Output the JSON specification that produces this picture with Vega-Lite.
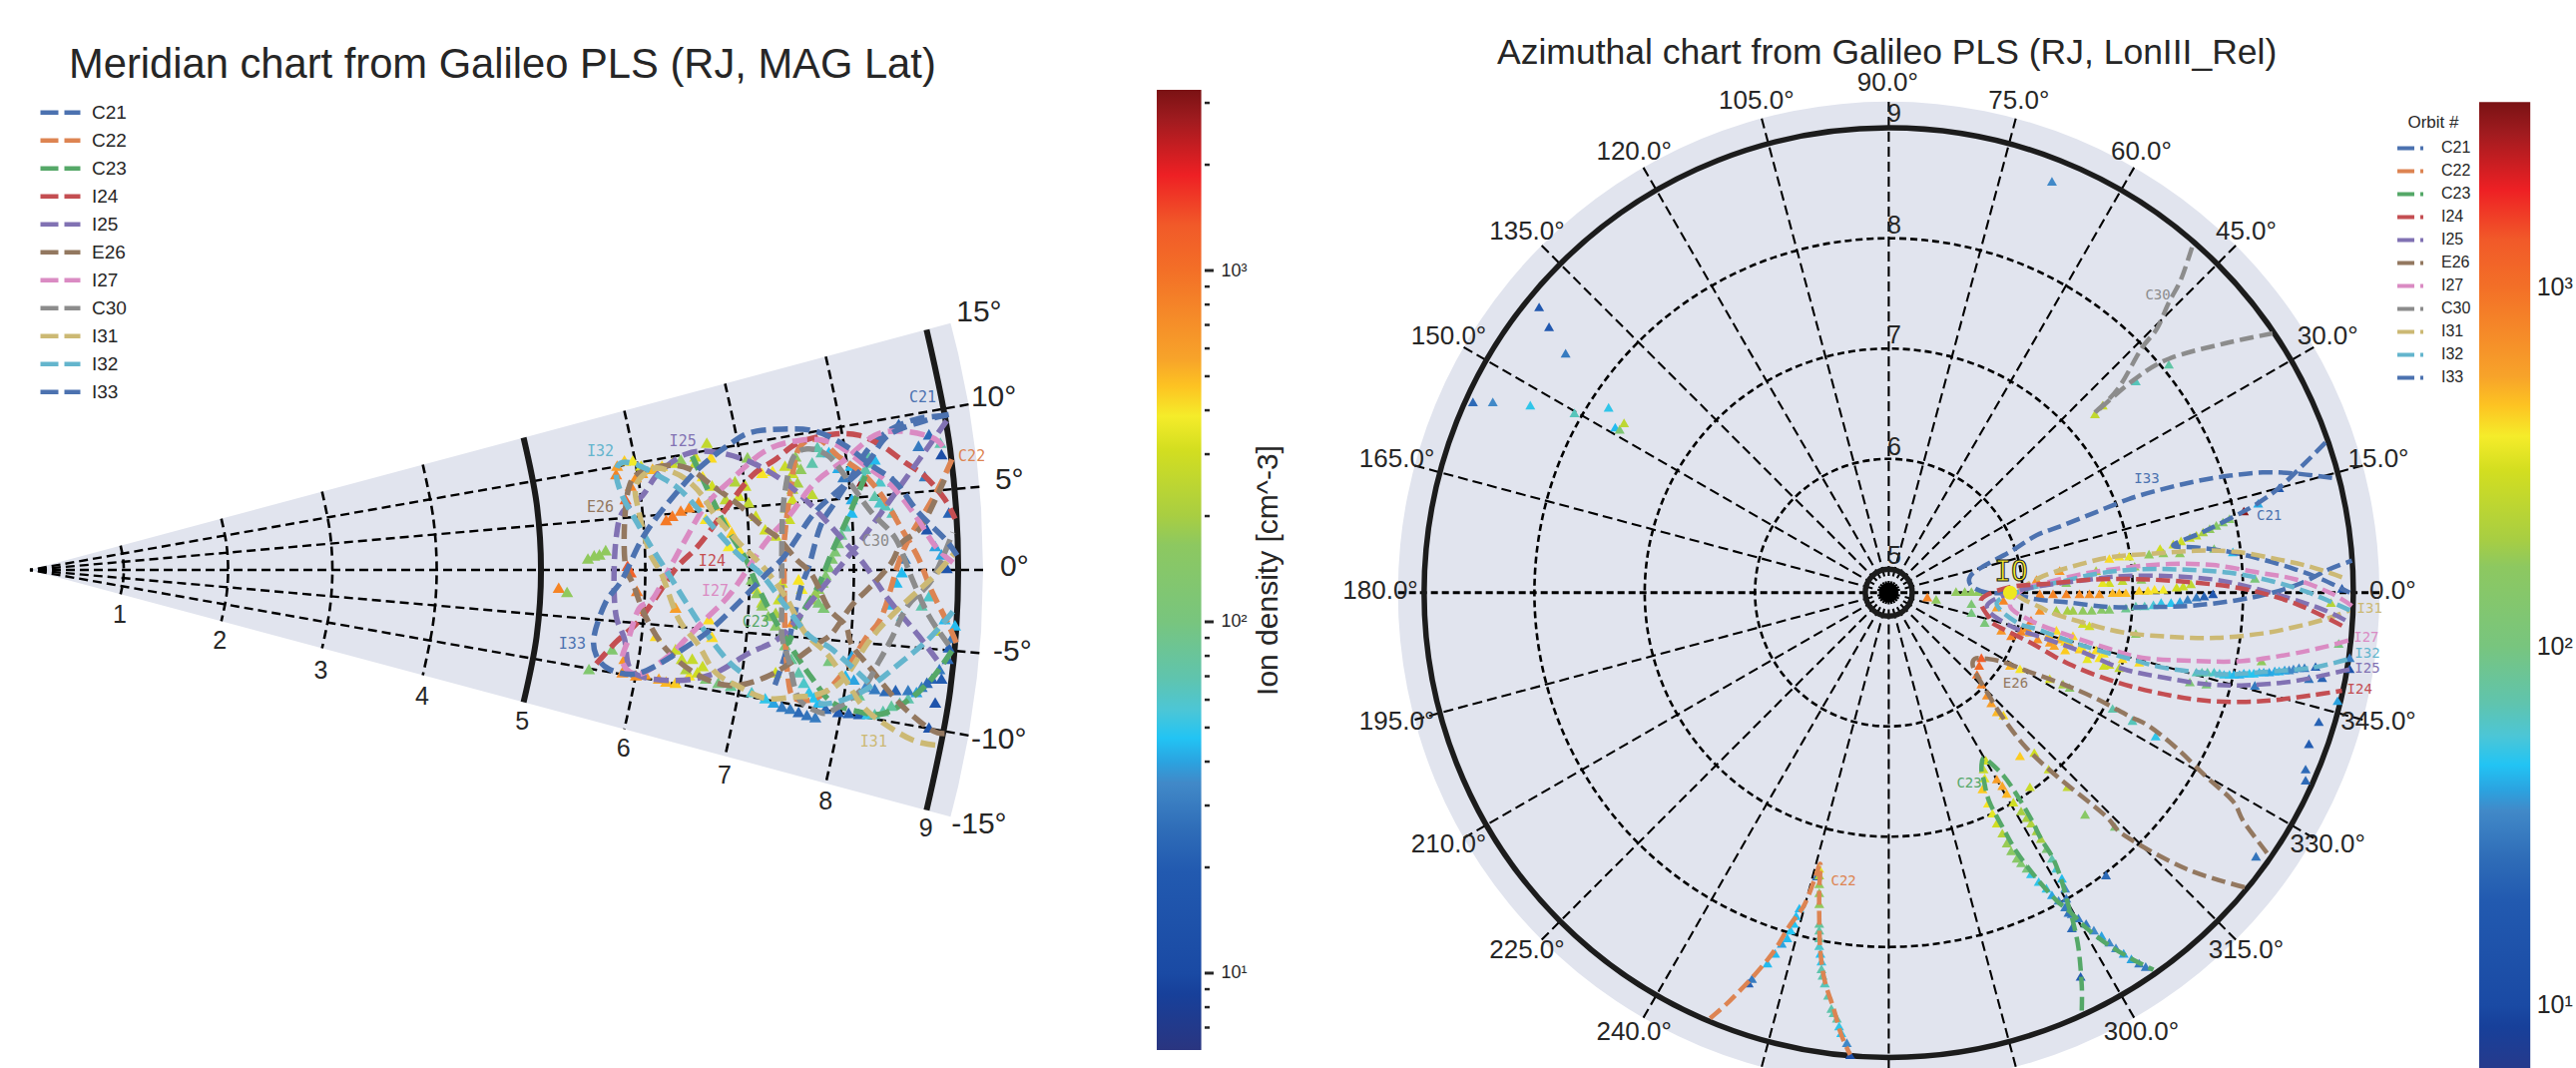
{"$schema":"https://vega.github.io/schema/vega-lite/v6.json","padding":0,"background":"white","bounds":"flush","spacing":0,"config":{"view":{"stroke":null},"font":"Liberation Sans"},
"resolve":{"scale":{"stroke":"independent","color":"independent"},"legend":{"stroke":"independent"}},
"datasets":{
"orbA":[
{"o":"C21","x":8.79,"y":1.48},{"o":"C21","x":8.52,"y":1.45},{"o":"C21","x":8.26,"y":1.35},{"o":"C21","x":8.04,"y":1.16},{"o":"C21","x":7.88,"y":0.9},{"o":"C21","x":7.72,"y":0.65},{"o":"C21","x":7.58,"y":0.42},{"o":"C21","x":7.47,"y":0.04},{"o":"C21","x":7.39,"y":-0.18},{"o":"C21","x":7.31,"y":-0.53},{"o":"C21","x":7.24,"y":-0.82},{"o":"C21","x":7.13,"y":-1.14},
{"o":"C22","x":8.84,"y":1.06},{"o":"C22","x":8.74,"y":0.84},{"o":"C22","x":8.62,"y":0.62},{"o":"C22","x":8.46,"y":0.36},{"o":"C22","x":8.33,"y":0.07},{"o":"C22","x":8.17,"y":-0.44},{"o":"C22","x":8.01,"y":-0.66},{"o":"C22","x":7.85,"y":-0.92},{"o":"C22","x":7.63,"y":-1.17},{"o":"C22","x":7.47,"y":-1.25},{"o":"C22","x":7.32,"y":-1.22},{"o":"C22","x":7.27,"y":-1.04},{"o":"C22","x":7.24,"y":-0.6},{"o":"C22","x":7.23,"y":0.11},{"o":"C22","x":7.24,"y":0.36},{"o":"C22","x":7.29,"y":0.74},{"o":"C22","x":7.37,"y":1.16},{"o":"C22","x":7.56,"y":1.25},{"o":"C22","x":7.75,"y":1.09},{"o":"C22","x":7.98,"y":0.93},{"o":"C22","x":8.17,"y":0.71},{"o":"C22","x":8.36,"y":0.39},{"o":"C22","x":8.52,"y":0.11},{"o":"C22","x":8.65,"y":-0.21},{"o":"C22","x":8.81,"y":-0.53},{"o":"C22","x":8.89,"y":-0.72},
{"o":"C23","s":"a","x":6.35,"y":1.09},{"o":"C23","s":"a","x":6.48,"y":0.81},{"o":"C23","s":"a","x":6.67,"y":0.42},{"o":"C23","s":"a","x":6.86,"y":0.11},{"o":"C23","s":"a","x":6.96,"y":-0.12},{"o":"C23","s":"a","x":7.12,"y":-0.44},{"o":"C23","s":"a","x":7.31,"y":-0.76},{"o":"C23","s":"a","x":7.5,"y":-1.04},{"o":"C23","s":"a","x":7.69,"y":-1.27},{"o":"C23","s":"a","x":7.95,"y":-1.36},{"o":"C23","s":"a","x":8.17,"y":-1.38},{"o":"C23","s":"a","x":8.42,"y":-1.25},{"o":"C23","s":"a","x":8.65,"y":-1.04},{"o":"C23","s":"a","x":8.85,"y":-0.76},
{"o":"C23","s":"b","x":8.01,"y":0.9},{"o":"C23","s":"b","x":7.85,"y":0.52},{"o":"C23","s":"b","x":7.69,"y":0.17},{"o":"C23","s":"b","x":7.56,"y":-0.15},{"o":"C23","s":"b","x":7.39,"y":-0.44},{"o":"C23","s":"b","x":7.28,"y":-0.69},
{"o":"I24","x":5.43,"y":-0.9},{"o":"I24","x":5.62,"y":-0.69},{"o":"I24","x":5.81,"y":-0.52},{"o":"I24","x":5.97,"y":-0.31},{"o":"I24","x":6.19,"y":0.01},{"o":"I24","x":6.38,"y":0.2},{"o":"I24","x":6.51,"y":0.36},{"o":"I24","x":6.67,"y":0.58},{"o":"I24","x":6.92,"y":0.9},{"o":"I24","x":7.15,"y":1.06},{"o":"I24","x":7.37,"y":1.22},{"o":"I24","x":7.69,"y":1.3},{"o":"I24","x":7.95,"y":1.29},{"o":"I24","x":8.17,"y":1.19},{"o":"I24","x":8.39,"y":1.03},{"o":"I24","x":8.58,"y":0.9},{"o":"I24","x":8.77,"y":0.68},{"o":"I24","x":8.87,"y":0.49},
{"o":"I25","x":8.79,"y":1.43},{"o":"I25","x":8.3,"y":0.74},{"o":"I25","x":7.95,"y":0.26},{"o":"I25","x":7.59,"y":-0.18},{"o":"I25","x":7.21,"y":-0.63},{"o":"I25","x":6.89,"y":-0.8},{"o":"I25","x":6.54,"y":-1},{"o":"I25","x":6.16,"y":-1.06},{"o":"I25","x":5.78,"y":-0.98},{"o":"I25","x":5.7,"y":-0.66},{"o":"I25","x":5.62,"y":-0.44},{"o":"I25","x":5.6,"y":-0.09},{"o":"I25","x":5.62,"y":0.3},{"o":"I25","x":5.68,"y":0.55},{"o":"I25","x":5.87,"y":0.71},{"o":"I25","x":6.03,"y":0.93},{"o":"I25","x":6.29,"y":1.11},{"o":"I25","x":6.57,"y":1.13},{"o":"I25","x":6.92,"y":1.03},{"o":"I25","x":7.24,"y":0.84},{"o":"I25","x":7.53,"y":0.58},{"o":"I25","x":7.82,"y":0.26},{"o":"I25","x":8.01,"y":0.04},{"o":"I25","x":8.23,"y":-0.28},{"o":"I25","x":8.52,"y":-0.63},{"o":"I25","x":8.74,"y":-0.92},
{"o":"E26","x":8.77,"y":-1.57},{"o":"E26","x":8.62,"y":-1.52},{"o":"E26","x":8.33,"y":-1.27},{"o":"E26","x":8.04,"y":-0.92},{"o":"E26","x":7.88,"y":-0.72},{"o":"E26","x":7.82,"y":-0.53},{"o":"E26","x":7.66,"y":-0.37},{"o":"E26","x":7.5,"y":-0.05},{"o":"E26","x":7.34,"y":0.11},{"o":"E26","x":7.18,"y":0.3},{"o":"E26","x":7.02,"y":0.42},{"o":"E26","x":6.8,"y":0.62},{"o":"E26","x":6.54,"y":0.81},{"o":"E26","x":6.32,"y":0.97},{"o":"E26","x":6.1,"y":1},{"o":"E26","x":5.84,"y":0.93},{"o":"E26","x":5.74,"y":0.78},{"o":"E26","x":5.7,"y":0.42},{"o":"E26","x":5.71,"y":0.04},{"o":"E26","x":5.79,"y":-0.15},{"o":"E26","x":5.9,"y":-0.44},{"o":"E26","x":6.1,"y":-0.76},{"o":"E26","x":6.41,"y":-1.01},{"o":"E26","x":6.73,"y":-1.11},{"o":"E26","x":7.05,"y":-1.03},{"o":"E26","x":7.31,"y":-0.88},{"o":"E26","x":7.53,"y":-0.72},{"o":"E26","x":7.69,"y":-0.61},{"o":"E26","x":7.88,"y":-0.34},{"o":"E26","x":8.1,"y":-0.12},{"o":"E26","x":8.26,"y":0.07},{"o":"E26","x":8.36,"y":0.26},{"o":"E26","x":8.55,"y":0.42},{"o":"E26","x":8.77,"y":0.87},
{"o":"I27","x":8.85,"y":0.07},{"o":"I27","x":8.68,"y":0.23},{"o":"I27","x":8.49,"y":0.52},{"o":"I27","x":8.26,"y":0.81},{"o":"I27","x":8.01,"y":1},{"o":"I27","x":7.69,"y":1.22},{"o":"I27","x":7.37,"y":1.24},{"o":"I27","x":7.05,"y":1.14},{"o":"I27","x":6.73,"y":0.87},{"o":"I27","x":6.48,"y":0.62},{"o":"I27","x":6.29,"y":0.3},{"o":"I27","x":6.13,"y":0.01},{"o":"I27","x":5.97,"y":-0.28},{"o":"I27","x":5.84,"y":-0.37},{"o":"I27","x":5.74,"y":-0.66},{"o":"I27","x":5.68,"y":-0.88},{"o":"I27","x":5.84,"y":-1},{"o":"I27","x":6.13,"y":-0.82},{"o":"I27","x":6.29,"y":-0.66},{"o":"I27","x":6.48,"y":-0.47},{"o":"I27","x":6.73,"y":-0.21},{"o":"I27","x":7.05,"y":0.26},{"o":"I27","x":7.28,"y":0.52},{"o":"I27","x":7.53,"y":0.84},{"o":"I27","x":7.82,"y":1.06},{"o":"I27","x":8.1,"y":1.29},{"o":"I27","x":8.36,"y":1.33},{"o":"I27","x":8.65,"y":1.27},{"o":"I27","x":8.77,"y":1.16},
{"o":"C30","x":8.81,"y":-0.72},{"o":"C30","x":8.62,"y":-0.44},{"o":"C30","x":8.46,"y":-0.09},{"o":"C30","x":8.3,"y":0.3},{"o":"C30","x":8.07,"y":0.55},{"o":"C30","x":7.88,"y":0.81},{"o":"C30","x":7.66,"y":1.09},{"o":"C30","x":7.45,"y":1.16},{"o":"C30","x":7.31,"y":1.06},{"o":"C30","x":7.23,"y":0.68},{"o":"C30","x":7.21,"y":0.3},{"o":"C30","x":7.21,"y":-0.28},{"o":"C30","x":7.21,"y":-0.63},{"o":"C30","x":7.28,"y":-0.88},{"o":"C30","x":7.37,"y":-1.23},{"o":"C30","x":7.56,"y":-1.36},{"o":"C30","x":7.69,"y":-1.35},{"o":"C30","x":7.98,"y":-1.14},{"o":"C30","x":8.14,"y":-0.88},{"o":"C30","x":8.26,"y":-0.66},{"o":"C30","x":8.42,"y":-0.34},{"o":"C30","x":8.65,"y":-0.09},{"o":"C30","x":8.85,"y":0.36},
{"o":"I31","x":8.68,"y":-1.68},{"o":"I31","x":8.46,"y":-1.63},{"o":"I31","x":8.17,"y":-1.46},{"o":"I31","x":7.98,"y":-1.3},{"o":"I31","x":7.79,"y":-1.01},{"o":"I31","x":7.63,"y":-0.79},{"o":"I31","x":7.43,"y":-0.6},{"o":"I31","x":7.24,"y":-0.25},{"o":"I31","x":7.02,"y":0.04},{"o":"I31","x":6.8,"y":0.26},{"o":"I31","x":6.57,"y":0.52},{"o":"I31","x":6.45,"y":0.71},{"o":"I31","x":6.29,"y":0.87},{"o":"I31","x":6.13,"y":0.95},{"o":"I31","x":5.97,"y":0.97},{"o":"I31","x":5.81,"y":0.81},{"o":"I31","x":5.84,"y":0.55},{"o":"I31","x":5.94,"y":0.17},{"o":"I31","x":6.06,"y":-0.05},{"o":"I31","x":6.22,"y":-0.47},{"o":"I31","x":6.41,"y":-0.72},{"o":"I31","x":6.57,"y":-0.98},{"o":"I31","x":6.8,"y":-1.12},{"o":"I31","x":7.05,"y":-1.23},{"o":"I31","x":7.31,"y":-1.22},{"o":"I31","x":7.56,"y":-1.19},{"o":"I31","x":7.79,"y":-1.06},{"o":"I31","x":8.04,"y":-0.69},{"o":"I31","x":8.23,"y":-0.47},{"o":"I31","x":8.46,"y":-0.25},{"o":"I31","x":8.68,"y":-0.05},{"o":"I31","x":8.87,"y":0.17},
{"o":"I32","s":"a","x":8.85,"y":-0.4},{"o":"I32","s":"a","x":8.62,"y":-0.66},{"o":"I32","s":"a","x":8.36,"y":-0.88},{"o":"I32","s":"a","x":8.01,"y":-1.15},{"o":"I32","s":"a","x":7.72,"y":-1.27},{"o":"I32","s":"a","x":7.56,"y":-1.28},
{"o":"I32","s":"b","x":8.04,"y":-1.08},{"o":"I32","s":"b","x":7.69,"y":-0.76},{"o":"I32","s":"b","x":7.47,"y":-0.63},{"o":"I32","s":"b","x":7.24,"y":-0.34},{"o":"I32","s":"b","x":7.02,"y":-0.05},{"o":"I32","s":"b","x":6.8,"y":0.14},{"o":"I32","s":"b","x":6.57,"y":0.39},{"o":"I32","s":"b","x":6.41,"y":0.58},{"o":"I32","s":"b","x":6.22,"y":0.78},{"o":"I32","s":"b","x":6.03,"y":0.9},{"o":"I32","s":"b","x":5.84,"y":1},{"o":"I32","s":"b","x":5.68,"y":1.03},{"o":"I32","s":"b","x":5.62,"y":0.93},{"o":"I32","s":"b","x":5.68,"y":0.71},{"o":"I32","s":"b","x":5.84,"y":0.42},{"o":"I32","s":"b","x":5.97,"y":0.2},{"o":"I32","s":"b","x":6.13,"y":-0.05},{"o":"I32","s":"b","x":6.29,"y":-0.31},{"o":"I32","s":"b","x":6.48,"y":-0.6},{"o":"I32","s":"b","x":6.7,"y":-0.88},{"o":"I32","s":"b","x":6.86,"y":-1.01},
{"o":"I33","x":8.81,"y":1.49},{"o":"I33","x":8.58,"y":1.43},{"o":"I33","x":8.23,"y":1.29},{"o":"I33","x":8.01,"y":1},{"o":"I33","x":7.69,"y":0.71},{"o":"I33","x":7.5,"y":0.52},{"o":"I33","x":7.24,"y":0.14},{"o":"I33","x":7.05,"y":-0.05},{"o":"I33","x":6.8,"y":-0.31},{"o":"I33","x":6.54,"y":-0.56},{"o":"I33","x":6.32,"y":-0.72},{"o":"I33","x":6,"y":-0.92},{"o":"I33","x":5.78,"y":-1},{"o":"I33","x":5.55,"y":-0.95},{"o":"I33","x":5.43,"y":-0.82},{"o":"I33","x":5.41,"y":-0.63},{"o":"I33","x":5.52,"y":-0.31},{"o":"I33","x":5.68,"y":-0.09},{"o":"I33","x":5.87,"y":0.3},{"o":"I33","x":6.1,"y":0.62},{"o":"I33","x":6.41,"y":0.97},{"o":"I33","x":6.73,"y":1.22},{"o":"I33","x":6.92,"y":1.32},{"o":"I33","x":7.21,"y":1.35},{"o":"I33","x":7.53,"y":1.33},{"o":"I33","x":7.82,"y":1.19},{"o":"I33","x":8.07,"y":1},{"o":"I33","x":8.3,"y":0.84},{"o":"I33","x":8.52,"y":0.55},{"o":"I33","x":8.77,"y":0.3},{"o":"I33","x":8.89,"y":0.14}
],
"triA":[
{"x":5.62,"y":0.92,"n":800},{"x":5.63,"y":1,"n":600},{"x":5.7,"y":1.05,"n":450},{"x":5.78,"y":1.05,"n":380},{"x":5.86,"y":1,"n":320},{"x":5.71,"y":0.68,"n":1200},{"x":5.76,"y":0.81,"n":800},{"x":5.81,"y":0.89,"n":700},{"x":5.87,"y":0.93,"n":600},{"x":5.97,"y":0.97,"n":500},{"x":6.06,"y":1,"n":420},{"x":6.16,"y":1.03,"n":300},{"x":6.24,"y":1.06,"n":170},{"x":6.38,"y":1.09,"n":300},{"x":6.49,"y":1.22,"n":260},{"x":6.53,"y":1.08,"n":420},{"x":6.38,"y":1.03,"n":280},{"x":6.45,"y":0.9,"n":400},{"x":6.54,"y":0.81,"n":300},{"x":6.67,"y":0.68,"n":250},{"x":6.76,"y":0.85,"n":220},{"x":6.8,"y":0.71,"n":300},{"x":6.89,"y":0.65,"n":260},{"x":6.86,"y":0.81,"n":280},{"x":6.96,"y":0.52,"n":300},{"x":7.05,"y":0.39,"n":300},{"x":7.15,"y":0.33,"n":280},{"x":6.1,"y":0.48,"n":900},{"x":6.16,"y":0.52,"n":900},{"x":6.24,"y":0.57,"n":850},{"x":6.32,"y":0.6,"n":800},{"x":6.41,"y":0.65,"n":700},{"x":6.57,"y":0.62,"n":500},{"x":6.67,"y":0.46,"n":420},{"x":6.73,"y":0.36,"n":450},{"x":6.8,"y":0.2,"n":400},{"x":6.48,"y":0.49,"n":400},{"x":6.7,"y":0.23,"n":380},{"x":5.35,"y":0.11,"n":170},{"x":5.41,"y":0.14,"n":170},{"x":5.46,"y":0.15,"n":170},{"x":5.52,"y":0.19,"n":170},{"x":5.07,"y":-0.17,"n":800},{"x":5.15,"y":-0.21,"n":170},{"x":5.73,"y":0.04,"n":1400},{"x":5.76,"y":-0.02,"n":1200},{"x":7.24,"y":1,"n":280},{"x":7.12,"y":0.95,"n":380},{"x":7.02,"y":0.93,"n":400},{"x":6.88,"y":1.08,"n":170},{"x":7.31,"y":0.93,"n":280},{"x":7.31,"y":0.68,"n":300},{"x":7.28,"y":0.49,"n":280},{"x":7.21,"y":0.42,"n":290},{"x":7.5,"y":0.73,"n":250},{"x":7.5,"y":1.03,"n":70},{"x":7.59,"y":1.13,"n":70},{"x":7.66,"y":1.13,"n":45},{"x":7.75,"y":0.98,"n":42},{"x":7.8,"y":0.89,"n":30},{"x":7.98,"y":0.85,"n":3000},{"x":8.03,"y":1.11,"n":70},{"x":8.07,"y":1.03,"n":70},{"x":8.1,"y":1.06,"n":45},{"x":8.01,"y":0.97,"n":70},{"x":8.1,"y":0.71,"n":70},{"x":8.2,"y":0.62,"n":65},{"x":7.88,"y":0.68,"n":42},{"x":7.88,"y":0.55,"n":45},{"x":7.82,"y":0.42,"n":70},{"x":7.75,"y":0.26,"n":110},{"x":7.69,"y":0.11,"n":130},{"x":7.63,"y":-0.05,"n":130},{"x":7.56,"y":-0.18,"n":170},{"x":7.5,"y":-0.28,"n":200},{"x":7.34,"y":1.09,"n":170},{"x":7.39,"y":0.97,"n":170},{"x":7.36,"y":0.84,"n":200},{"x":7.31,"y":0.78,"n":220},{"x":8.33,"y":1.4,"n":25},{"x":8.52,"y":1.19,"n":30},{"x":8.62,"y":1.3,"n":25},{"x":8.74,"y":1.11,"n":12},{"x":8.81,"y":0.55,"n":22},{"x":8.6,"y":0.39,"n":15},{"x":8.68,"y":0.23,"n":40},{"x":8.74,"y":0.15,"n":40},{"x":8.79,"y":0.02,"n":15},{"x":8.73,"y":1.22,"n":70},{"x":8.28,"y":0.85,"n":25},{"x":8.58,"y":0.9,"n":30},{"x":8.39,"y":0.11,"n":30},{"x":8.31,"y":-0.12,"n":45},{"x":8.22,"y":-0.33,"n":45},{"x":8.36,"y":-0.02,"n":45},
{"x":5.7,"y":-0.85,"n":650},{"x":5.68,"y":-0.98,"n":700},{"x":5.81,"y":-1.01,"n":700},{"x":5.9,"y":-1,"n":600},{"x":6.03,"y":-1.04,"n":550},{"x":6.19,"y":-1.08,"n":450},{"x":6.32,"y":-1.01,"n":400},{"x":6.45,"y":-0.92,"n":280},{"x":6.35,"y":-0.85,"n":270},{"x":6.25,"y":-0.85,"n":270},{"x":6.19,"y":-0.76,"n":280},{"x":6.29,"y":-0.95,"n":220},{"x":6.48,"y":-1.04,"n":120},{"x":5.36,"y":-0.95,"n":130},{"x":5.58,"y":-0.76,"n":130},{"x":5.87,"y":-0.37,"n":800},{"x":6,"y":-0.63,"n":420},{"x":6.19,"y":-0.36,"n":600},{"x":6.54,"y":-0.64,"n":420},{"x":6.51,"y":-0.47,"n":420},{"x":5.82,"y":-0.2,"n":900},{"x":6.96,"y":-0.18,"n":380},{"x":7.02,"y":-0.31,"n":250},{"x":7.15,"y":-0.41,"n":200},{"x":7.31,"y":-0.5,"n":700},{"x":7.37,"y":-0.09,"n":400},{"x":7.4,"y":-0.18,"n":380},{"x":7.21,"y":-0.12,"n":300},{"x":7.18,"y":-0.28,"n":280},{"x":7.15,"y":-0.98,"n":300},{"x":6.92,"y":-0.09,"n":150},{"x":7.02,"y":-0.34,"n":170},{"x":7.15,"y":-0.53,"n":150},{"x":7.24,"y":-0.72,"n":100},{"x":7.37,"y":-0.98,"n":70},{"x":7.47,"y":-1.17,"n":50},{"x":7.56,"y":-1.27,"n":45},{"x":7.66,"y":-0.87,"n":100},{"x":7.56,"y":-0.31,"n":120},{"x":7.61,"y":-0.36,"n":120},{"x":6.92,"y":-1.17,"n":60},{"x":7.05,"y":-1.23,"n":50},{"x":7.13,"y":-1.27,"n":40},{"x":7.21,"y":-1.31,"n":30},{"x":7.29,"y":-1.33,"n":30},{"x":7.37,"y":-1.36,"n":25},{"x":7.45,"y":-1.39,"n":28},{"x":7.53,"y":-1.41,"n":30},{"x":7.75,"y":-1.36,"n":20},{"x":7.85,"y":-1.37,"n":22},{"x":7.95,"y":-1.38,"n":20},{"x":8.03,"y":-1.38,"n":50},{"x":8.1,"y":-1.38,"n":70},{"x":8.18,"y":-1.35,"n":70},{"x":8.26,"y":-1.3,"n":80},{"x":8.34,"y":-1.27,"n":70},{"x":8.42,"y":-1.23,"n":70},{"x":8.5,"y":-1.17,"n":40},{"x":8.55,"y":-1.12,"n":30},{"x":8.65,"y":-1.04,"n":22},{"x":8.74,"y":-1.04,"n":20},{"x":8.68,"y":-1.27,"n":15},{"x":8.62,"y":-1.51,"n":15},{"x":7.82,"y":-1.01,"n":45},{"x":7.9,"y":-1.05,"n":40},{"x":8.01,"y":-1.12,"n":35},{"x":8.1,"y":-1.14,"n":30},{"x":8.2,"y":-1.16,"n":25},{"x":8.3,"y":-1.15,"n":22},{"x":8.42,"y":-1.15,"n":30},{"x":7.95,"y":-1.2,"n":85},{"x":8.81,"y":-0.74,"n":22},{"x":8.87,"y":-0.53,"n":45},{"x":8.77,"y":-0.47,"n":45},{"x":8.69,"y":-0.58,"n":280},{"x":7.88,"y":-0.82,"n":40},{"x":8.55,"y":-0.34,"n":70},{"x":8.36,"y":-0.44,"n":60},{"x":8.62,"y":-0.25,"n":60},
{"x":6.97,"y":-0.22,"n":170},{"x":7.08,"y":-0.44,"n":160},{"x":7.2,"y":-0.62,"n":120},{"x":7.3,"y":-0.85,"n":85},{"x":7.42,"y":-1.08,"n":60},{"x":7.52,"y":-1.22,"n":48},{"x":7.33,"y":1.03,"n":200},{"x":7.28,"y":0.85,"n":220},{"x":7.25,"y":0.6,"n":260},{"x":7.78,"y":0.34,"n":90},{"x":7.72,"y":0.18,"n":120},{"x":7.66,"y":0.03,"n":130},{"x":7.6,"y":-0.12,"n":150},{"x":7.53,"y":-0.22,"n":180},{"x":7.55,"y":1.18,"n":70},{"x":7.7,"y":1.12,"n":60},{"x":7.87,"y":1,"n":45},{"x":8.15,"y":0.85,"n":60},{"x":8.15,"y":0.65,"n":60},{"x":8.27,"y":0.55,"n":65},{"x":8,"y":0.9,"n":65},{"x":6.6,"y":-1.08,"n":100},{"x":6.72,"y":-1.11,"n":85},{"x":6.1,"y":-1.07,"n":500},{"x":6.4,"y":-0.98,"n":300},{"x":7.63,"y":-1.33,"n":25},{"x":8.6,"y":-1.08,"n":25},{"x":8.72,"y":-0.95,"n":30},{"x":8.8,"y":-0.85,"n":25},{"x":8.84,"y":-0.65,"n":30}
],
"arcA":[
{"r":1,"x":0.869,"y":0.233},{"r":1,"x":0.892,"y":0.117},{"r":1,"x":0.9,"y":0},{"r":1,"x":0.892,"y":-0.117},{"r":1,"x":0.869,"y":-0.233},
{"r":2,"x":1.835,"y":0.492},{"r":2,"x":1.884,"y":0.248},{"r":2,"x":1.9,"y":0},{"r":2,"x":1.884,"y":-0.248},{"r":2,"x":1.835,"y":-0.492},
{"r":3,"x":2.801,"y":0.751},{"r":3,"x":2.875,"y":0.378},{"r":3,"x":2.9,"y":0},{"r":3,"x":2.875,"y":-0.378},{"r":3,"x":2.801,"y":-0.751},
{"r":4,"x":3.767,"y":1.009},{"r":4,"x":3.866,"y":0.509},{"r":4,"x":3.9,"y":0},{"r":4,"x":3.866,"y":-0.509},{"r":4,"x":3.767,"y":-1.009},
{"r":6,"x":5.699,"y":1.527},{"r":6,"x":5.849,"y":0.77},{"r":6,"x":5.9,"y":0},{"r":6,"x":5.849,"y":-0.77},{"r":6,"x":5.699,"y":-1.527},
{"r":7,"x":6.665,"y":1.786},{"r":7,"x":6.841,"y":0.9},{"r":7,"x":6.9,"y":0},{"r":7,"x":6.841,"y":-0.9},{"r":7,"x":6.665,"y":-1.786},
{"r":8,"x":7.631,"y":2.045},{"r":8,"x":7.832,"y":1.031},{"r":8,"x":7.9,"y":0},{"r":8,"x":7.832,"y":-1.031},{"r":8,"x":7.631,"y":-2.045}],
"arcA2":[
{"r":5,"x":4.733,"y":1.268},{"r":5,"x":4.858,"y":0.639},{"r":5,"x":4.9,"y":0},{"r":5,"x":4.858,"y":-0.639},{"r":5,"x":4.733,"y":-1.268},
{"r":9,"x":8.597,"y":2.303},{"r":9,"x":8.823,"y":1.161},{"r":9,"x":8.9,"y":0},{"r":9,"x":8.823,"y":-1.161},{"r":9,"x":8.597,"y":-2.303}],
"orbB":[
{"o":"I33","x":4.02,"y":1.04},{"o":"I33","x":3.69,"y":1.08},{"o":"I33","x":3.39,"y":1.09},{"o":"I33","x":3.09,"y":1.06},{"o":"I33","x":2.79,"y":1.01},{"o":"I33","x":2.49,"y":0.94},{"o":"I33","x":2.18,"y":0.85},{"o":"I33","x":1.88,"y":0.73},{"o":"I33","x":1.58,"y":0.61},{"o":"I33","x":1.34,"y":0.52},{"o":"I33","x":1.1,"y":0.37},{"o":"I33","x":0.86,"y":0.24},{"o":"I33","x":0.74,"y":0.15},{"o":"I33","x":0.75,"y":0.06},{"o":"I33","x":0.89,"y":0},{"o":"I33","x":1.1,"y":-0.01},{"o":"I33","x":1.34,"y":-0.06},{"o":"I33","x":1.64,"y":-0.09},{"o":"I33","x":2,"y":-0.13},{"o":"I33","x":2.36,"y":-0.13},{"o":"I33","x":2.73,"y":-0.12},{"o":"I33","x":3.15,"y":-0.07},{"o":"I33","x":3.48,"y":0},{"o":"I33","x":3.75,"y":0.09},{"o":"I33","x":3.99,"y":0.21},{"o":"I33","x":4.2,"y":0.29},
{"o":"C21","x":3.96,"y":1.36},{"o":"C21","x":3.78,"y":1.18},{"o":"C21","x":3.54,"y":0.95},{"o":"C21","x":3.33,"y":0.8},{"o":"C21","x":3.15,"y":0.7},{"o":"C21","x":2.85,"y":0.55},{"o":"C21","x":2.58,"y":0.43},{"o":"C21","x":2.79,"y":0.41},{"o":"C21","x":3.09,"y":0.37},{"o":"C21","x":3.39,"y":0.3},{"o":"C21","x":3.69,"y":0.21},{"o":"C21","x":3.93,"y":0.12},{"o":"C21","x":4.18,"y":0},
{"o":"I31","x":4.11,"y":0.14},{"o":"I31","x":3.84,"y":0.23},{"o":"I31","x":3.54,"y":0.3},{"o":"I31","x":3.15,"y":0.37},{"o":"I31","x":2.79,"y":0.38},{"o":"I31","x":2.36,"y":0.35},{"o":"I31","x":2,"y":0.32},{"o":"I31","x":1.64,"y":0.23},{"o":"I31","x":1.4,"y":0.15},{"o":"I31","x":1.22,"y":0.05},{"o":"I31","x":1.16,"y":-0.01},{"o":"I31","x":1.22,"y":-0.06},{"o":"I31","x":1.37,"y":-0.13},{"o":"I31","x":1.49,"y":-0.19},{"o":"I31","x":1.76,"y":-0.27},{"o":"I31","x":2.12,"y":-0.36},{"o":"I31","x":2.55,"y":-0.4},{"o":"I31","x":2.97,"y":-0.41},{"o":"I31","x":3.39,"y":-0.37},{"o":"I31","x":3.69,"y":-0.31},{"o":"I31","x":3.96,"y":-0.24},{"o":"I31","x":4.18,"y":-0.16},
{"o":"I27","x":4.2,"y":-0.12},{"o":"I27","x":4.02,"y":-0.01},{"o":"I27","x":3.69,"y":0.12},{"o":"I27","x":3.36,"y":0.18},{"o":"I27","x":2.94,"y":0.25},{"o":"I27","x":2.55,"y":0.26},{"o":"I27","x":2.18,"y":0.23},{"o":"I27","x":1.76,"y":0.17},{"o":"I27","x":1.43,"y":0.09},{"o":"I27","x":1.22,"y":0.03},{"o":"I27","x":1.1,"y":-0.12},{"o":"I27","x":1.28,"y":-0.25},{"o":"I27","x":1.58,"y":-0.37},{"o":"I27","x":1.94,"y":-0.49},{"o":"I27","x":2.3,"y":-0.59},{"o":"I27","x":2.79,"y":-0.62},{"o":"I27","x":3.21,"y":-0.62},{"o":"I27","x":3.63,"y":-0.56},{"o":"I27","x":3.96,"y":-0.49},{"o":"I27","x":4.18,"y":-0.43},
{"o":"I32","x":4.18,"y":-0.16},{"o":"I32","x":3.81,"y":0},{"o":"I32","x":3.45,"y":0.11},{"o":"I32","x":3.09,"y":0.18},{"o":"I32","x":2.64,"y":0.21},{"o":"I32","x":2.24,"y":0.21},{"o":"I32","x":1.88,"y":0.17},{"o":"I32","x":1.52,"y":0.09},{"o":"I32","x":1.25,"y":0.03},{"o":"I32","x":0.98,"y":-0.09},{"o":"I32","x":1.16,"y":-0.27},{"o":"I32","x":1.37,"y":-0.34},{"o":"I32","x":1.76,"y":-0.48},{"o":"I32","x":2.18,"y":-0.6},{"o":"I32","x":2.49,"y":-0.68},{"o":"I32","x":2.79,"y":-0.72},{"o":"I32","x":3.09,"y":-0.74},{"o":"I32","x":3.39,"y":-0.72},{"o":"I32","x":3.84,"y":-0.68},{"o":"I32","x":4.18,"y":-0.6},
{"o":"I25","x":4.14,"y":-0.25},{"o":"I25","x":3.93,"y":-0.15},{"o":"I25","x":3.6,"y":-0.04},{"o":"I25","x":3.24,"y":0.06},{"o":"I25","x":2.94,"y":0.12},{"o":"I25","x":2.55,"y":0.15},{"o":"I25","x":2.12,"y":0.15},{"o":"I25","x":1.76,"y":0.11},{"o":"I25","x":1.22,"y":0.03},{"o":"I25","x":0.89,"y":-0.12},{"o":"I25","x":1.1,"y":-0.3},{"o":"I25","x":1.43,"y":-0.42},{"o":"I25","x":1.76,"y":-0.54},{"o":"I25","x":2.12,"y":-0.69},{"o":"I25","x":2.49,"y":-0.77},{"o":"I25","x":2.88,"y":-0.83},{"o":"I25","x":3.24,"y":-0.84},{"o":"I25","x":3.69,"y":-0.8},{"o":"I25","x":4.2,"y":-0.69},
{"o":"I24","x":4.11,"y":-0.3},{"o":"I24","x":3.69,"y":-0.1},{"o":"I24","x":3.24,"y":0.03},{"o":"I24","x":2.79,"y":0.09},{"o":"I24","x":2.33,"y":0.12},{"o":"I24","x":1.88,"y":0.12},{"o":"I24","x":1.43,"y":0.08},{"o":"I24","x":1.1,"y":0.05},{"o":"I24","x":0.84,"y":-0.06},{"o":"I24","x":0.92,"y":-0.24},{"o":"I24","x":0.98,"y":-0.3},{"o":"I24","x":1.28,"y":-0.45},{"o":"I24","x":1.64,"y":-0.65},{"o":"I24","x":2.06,"y":-0.81},{"o":"I24","x":2.49,"y":-0.92},{"o":"I24","x":2.88,"y":-0.98},{"o":"I24","x":3.24,"y":-0.99},{"o":"I24","x":3.54,"y":-0.97},{"o":"I24","x":3.84,"y":-0.93},{"o":"I24","x":4.11,"y":-0.89},
{"o":"E26","x":3.43,"y":-2.36},{"o":"E26","x":3.22,"y":-2.08},{"o":"E26","x":3.12,"y":-1.89},{"o":"E26","x":2.88,"y":-1.67},{"o":"E26","x":2.61,"y":-1.41},{"o":"E26","x":2.36,"y":-1.21},{"o":"E26","x":2.18,"y":-1.12},{"o":"E26","x":1.88,"y":-0.96},{"o":"E26","x":1.58,"y":-0.83},{"o":"E26","x":1.28,"y":-0.72},{"o":"E26","x":1.04,"y":-0.63},{"o":"E26","x":0.89,"y":-0.6},{"o":"E26","x":0.78,"y":-0.6},{"o":"E26","x":0.77,"y":-0.69},{"o":"E26","x":0.89,"y":-0.9},{"o":"E26","x":1.04,"y":-1.14},{"o":"E26","x":1.25,"y":-1.41},{"o":"E26","x":1.53,"y":-1.67},{"o":"E26","x":1.95,"y":-2.01},{"o":"E26","x":2.15,"y":-2.21},{"o":"E26","x":2.71,"y":-2.51},{"o":"E26","x":3.26,"y":-2.68},
{"o":"C23","x":1.75,"y":-3.79},{"o":"C23","x":1.75,"y":-3.56},{"o":"C23","x":1.72,"y":-3.22},{"o":"C23","x":1.67,"y":-2.98},{"o":"C23","x":1.63,"y":-2.84},{"o":"C23","x":1.57,"y":-2.62},{"o":"C23","x":1.49,"y":-2.41},{"o":"C23","x":1.38,"y":-2.23},{"o":"C23","x":1.29,"y":-2.05},{"o":"C23","x":1.14,"y":-1.8},{"o":"C23","x":1.04,"y":-1.66},{"o":"C23","x":0.93,"y":-1.55},{"o":"C23","x":0.86,"y":-1.5},{"o":"C23","x":0.84,"y":-1.6},{"o":"C23","x":0.86,"y":-1.69},{"o":"C23","x":0.91,"y":-1.89},{"o":"C23","x":1.04,"y":-2.14},{"o":"C23","x":1.16,"y":-2.35},{"o":"C23","x":1.34,"y":-2.59},{"o":"C23","x":1.52,"y":-2.79},{"o":"C23","x":1.64,"y":-2.89},{"o":"C23","x":1.79,"y":-3.04},{"o":"C23","x":2,"y":-3.2},{"o":"C23","x":2.22,"y":-3.33},{"o":"C23","x":2.4,"y":-3.42},
{"o":"C22","x":-1.62,"y":-3.86},{"o":"C22","x":-1.44,"y":-3.7},{"o":"C22","x":-1.22,"y":-3.47},{"o":"C22","x":-1.04,"y":-3.25},{"o":"C22","x":-0.9,"y":-3.02},{"o":"C22","x":-0.77,"y":-2.84},{"o":"C22","x":-0.68,"y":-2.62},{"o":"C22","x":-0.62,"y":-2.46},{"o":"C22","x":-0.63,"y":-2.68},{"o":"C22","x":-0.63,"y":-2.95},{"o":"C22","x":-0.62,"y":-3.25},{"o":"C22","x":-0.58,"y":-3.52},{"o":"C22","x":-0.5,"y":-3.77},{"o":"C22","x":-0.43,"y":-4.01},{"o":"C22","x":-0.35,"y":-4.19},
{"o":"C30","x":2.75,"y":3.13},{"o":"C30","x":2.65,"y":2.84},{"o":"C30","x":2.54,"y":2.63},{"o":"C30","x":2.43,"y":2.39},{"o":"C30","x":2.29,"y":2.21},{"o":"C30","x":2.08,"y":1.85},{"o":"C30","x":1.87,"y":1.63},{"o":"C30","x":2.21,"y":1.92},{"o":"C30","x":2.54,"y":2.12},{"o":"C30","x":3.05,"y":2.26},{"o":"C30","x":3.48,"y":2.35}
],
"triB":[
{"x":0.35,"y":-0.04,"n":800},{"x":0.43,"y":-0.06,"n":170},{"x":0.61,"y":0.01,"n":170},{"x":0.69,"y":0.01,"n":170},{"x":0.75,"y":0.01,"n":170},{"x":0.81,"y":0.01,"n":170},{"x":1.37,"y":-0.01,"n":800},{"x":1.49,"y":-0.01,"n":800},{"x":1.61,"y":-0.01,"n":800},{"x":1.73,"y":-0.01,"n":750},{"x":1.82,"y":-0.01,"n":700},{"x":1.91,"y":-0.01,"n":650},{"x":2.03,"y":0,"n":500},{"x":2.09,"y":0,"n":500},{"x":2.15,"y":0,"n":480},{"x":2.27,"y":0.02,"n":450},{"x":2.35,"y":0.02,"n":420},{"x":2.41,"y":0.03,"n":400},{"x":2.49,"y":0.03,"n":380},{"x":2.61,"y":0.05,"n":300},{"x":2.67,"y":0.06,"n":280},{"x":2.74,"y":0.08,"n":250},
{"x":1.52,"y":-0.16,"n":200},{"x":1.62,"y":-0.16,"n":200},{"x":1.67,"y":-0.16,"n":190},{"x":1.76,"y":-0.16,"n":170},{"x":1.84,"y":-0.16,"n":160},{"x":1.93,"y":-0.15,"n":150},{"x":2,"y":-0.15,"n":140},{"x":2.15,"y":-0.14,"n":90},{"x":2.24,"y":-0.12,"n":70},{"x":2.32,"y":-0.12,"n":65},{"x":2.4,"y":-0.11,"n":55},{"x":2.47,"y":-0.09,"n":50},{"x":2.56,"y":-0.09,"n":48},{"x":2.64,"y":-0.08,"n":40},{"x":2.71,"y":-0.06,"n":32},{"x":2.79,"y":-0.04,"n":30},{"x":2.86,"y":-0.03,"n":22},{"x":2.94,"y":-0.01,"n":18},
{"x":2.24,"y":-0.37,"n":160},{"x":1.82,"y":-0.3,"n":300},{"x":1.76,"y":-0.28,"n":300},{"x":1.37,"y":-0.16,"n":700},
{"x":1.34,"y":0.12,"n":700},{"x":1.55,"y":0.2,"n":650},{"x":2.09,"y":0.33,"n":400},{"x":2,"y":0.31,"n":420},{"x":2.18,"y":0.33,"n":350},{"x":2.36,"y":0.35,"n":170},{"x":2.49,"y":0.36,"n":170},{"x":2.64,"y":0.36,"n":170},{"x":2.95,"y":0.4,"n":120},{"x":3.12,"y":0.37,"n":45},{"x":2.23,"y":0.24,"n":170},{"x":1.88,"y":0.2,"n":200},{"x":1.61,"y":0.09,"n":150},{"x":3.32,"y":0.13,"n":110},{"x":2.29,"y":0.12,"n":170},{"x":2.12,"y":0.11,"n":260},{"x":2,"y":0.09,"n":300},{"x":1.94,"y":0.09,"n":350},
{"x":2.79,"y":-0.72,"n":65},{"x":2.89,"y":-0.72,"n":75},{"x":3,"y":-0.73,"n":55},{"x":3.09,"y":-0.74,"n":50},{"x":3.18,"y":-0.74,"n":42},{"x":3.27,"y":-0.73,"n":50},{"x":3.36,"y":-0.72,"n":45},{"x":3.45,"y":-0.72,"n":40},{"x":3.54,"y":-0.71,"n":45},{"x":3.63,"y":-0.7,"n":35},{"x":3.72,"y":-0.68,"n":35},{"x":3.87,"y":-0.67,"n":22},{"x":3.38,"y":-0.62,"n":170},{"x":4.08,"y":-0.46,"n":100},{"x":2.73,"y":-0.81,"n":120},{"x":2.88,"y":-0.83,"n":110},{"x":3.32,"y":-0.84,"n":30},{"x":3.81,"y":-0.78,"n":28},{"x":3.93,"y":-0.77,"n":22},{"x":4.18,"y":-0.69,"n":15},{"x":4.18,"y":-0.59,"n":30},{"x":4.01,"y":-0.09,"n":230},{"x":4.11,"y":0.04,"n":17},
{"x":2.09,"y":-0.68,"n":250},{"x":2,"y":-0.65,"n":300},{"x":1.91,"y":-0.59,"n":400},{"x":1.82,"y":-0.56,"n":400},{"x":1.73,"y":-0.51,"n":450},{"x":1.64,"y":-0.46,"n":500},{"x":1.55,"y":-0.42,"n":500},{"x":2.27,"y":-0.63,"n":420},{"x":1.88,"y":-0.52,"n":420},{"x":1.67,"y":-0.39,"n":430},{"x":1.52,"y":-0.34,"n":420},{"x":1.46,"y":-0.45,"n":600},{"x":1.28,"y":-0.36,"n":550},{"x":1.11,"y":-0.39,"n":800},{"x":1.02,"y":-0.34,"n":650},{"x":0.98,"y":-0.13,"n":600},{"x":1.04,"y":-0.07,"n":800},{"x":1.29,"y":-0.25,"n":1000},{"x":0.75,"y":-0.1,"n":120},{"x":0.75,"y":-0.18,"n":100},{"x":0.87,"y":-0.27,"n":110},
{"x":0.84,"y":-0.59,"n":1300},{"x":0.8,"y":-0.74,"n":1000},{"x":0.89,"y":-0.93,"n":700},{"x":0.98,"y":-1.08,"n":500},{"x":1.04,"y":-1.11,"n":420},{"x":1.1,"y":-0.66,"n":500},{"x":1.19,"y":-0.69,"n":400},{"x":1.46,"y":-0.78,"n":320},{"x":1.58,"y":-0.83,"n":200},{"x":1.64,"y":-0.86,"n":150},{"x":2.03,"y":-1.05,"n":70},{"x":2.21,"y":-1.16,"n":65},{"x":2.42,"y":-1.3,"n":50},{"x":4.07,"y":-0.98,"n":40},{"x":3.9,"y":-1.17,"n":22},{"x":3.81,"y":-1.37,"n":20},{"x":3.78,"y":-1.6,"n":25},{"x":3.78,"y":-1.7,"n":25},{"x":3.33,"y":-2.39,"n":28},
{"x":1.19,"y":-1.48,"n":450},{"x":1.32,"y":-1.45,"n":300},{"x":1.45,"y":-1.6,"n":280},{"x":1.62,"y":-1.76,"n":260},{"x":1.28,"y":-1.76,"n":280},{"x":1.78,"y":-2.01,"n":150},{"x":2.05,"y":-2.12,"n":120},{"x":1.97,"y":-2.56,"n":25},{"x":1.74,"y":-3.48,"n":20},
{"x":0.86,"y":-1.6,"n":280},{"x":0.85,"y":-1.78,"n":450},{"x":0.9,"y":-1.91,"n":400},{"x":0.98,"y":-2.09,"n":300},{"x":1.07,"y":-2.27,"n":180},{"x":1.16,"y":-2.41,"n":150},{"x":1.25,"y":-2.5,"n":110},{"x":1.29,"y":-2.55,"n":50},{"x":1.43,"y":-2.68,"n":50},{"x":1.54,"y":-2.79,"n":35},{"x":1.66,"y":-2.91,"n":30},{"x":1.79,"y":-3,"n":30},{"x":1.93,"y":-3.11,"n":40},{"x":2.06,"y":-3.22,"n":35},{"x":2.2,"y":-3.32,"n":40},{"x":2.33,"y":-3.39,"n":30},
{"x":0.98,"y":-1.69,"n":600},{"x":1.07,"y":-1.82,"n":500},{"x":1.2,"y":-1.98,"n":200},{"x":1.29,"y":-2.09,"n":220},{"x":1.38,"y":-2.23,"n":200},{"x":1.48,"y":-2.41,"n":70},{"x":1.57,"y":-2.59,"n":45},{"x":1.61,"y":-2.77,"n":30},{"x":1.66,"y":-3.04,"n":25},
{"x":-0.63,"y":-2.5,"n":350},{"x":-0.65,"y":-2.57,"n":25},{"x":-0.63,"y":-2.64,"n":170},{"x":-0.63,"y":-2.82,"n":170},{"x":-0.81,"y":-2.86,"n":45},{"x":-0.86,"y":-3,"n":47},{"x":-0.92,"y":-3.13,"n":45},{"x":-0.97,"y":-3.18,"n":40},{"x":-1.1,"y":-3.36,"n":45},{"x":-1.24,"y":-3.5,"n":30},{"x":-1.27,"y":-3.54,"n":22},{"x":-0.63,"y":-3,"n":80},{"x":-0.63,"y":-3.13,"n":70},{"x":-0.62,"y":-3.27,"n":47},{"x":-0.61,"y":-3.41,"n":70},{"x":-0.58,"y":-3.54,"n":65},{"x":-0.52,"y":-3.77,"n":70},{"x":-0.47,"y":-3.86,"n":70},{"x":-0.43,"y":-3.99,"n":47},{"x":-0.38,"y":-4.08,"n":35},{"x":-0.35,"y":-4.19,"n":12},
{"x":-3.17,"y":2.59,"n":17},{"x":-3.08,"y":2.41,"n":18},{"x":-2.93,"y":2.17,"n":30},{"x":-3.77,"y":1.73,"n":25},{"x":-3.59,"y":1.73,"n":35},{"x":-3.25,"y":1.7,"n":50},{"x":-2.85,"y":1.63,"n":65},{"x":-2.54,"y":1.68,"n":50},{"x":-2.48,"y":1.5,"n":45},{"x":-2.44,"y":1.48,"n":120},{"x":-2.4,"y":1.54,"n":250},{"x":1.48,"y":3.73,"n":35},{"x":2.54,"y":2.07,"n":75},{"x":2.24,"y":1.92,"n":65},{"x":1.94,"y":1.7,"n":280},{"x":1.87,"y":1.62,"n":260},
{"x":3.54,"y":0.95,"n":17},{"x":3.35,"y":0.81,"n":42},{"x":3.22,"y":0.74,"n":3000},{"x":3.09,"y":0.67,"n":150},{"x":2.97,"y":0.61,"n":150},{"x":2.85,"y":0.55,"n":200},{"x":2.73,"y":0.5,"n":280},{"x":2.58,"y":0.44,"n":300},{"x":2.46,"y":0.4,"n":300},
{"x":3.03,"y":0.64,"n":150},{"x":2.91,"y":0.58,"n":170},{"x":2.79,"y":0.52,"n":250},{"x":2.65,"y":0.47,"n":290},{"x":1.2,"y":-0.35,"n":800},{"x":1.35,"y":-0.42,"n":700},{"x":1.5,"y":-0.48,"n":550},{"x":1.6,"y":-0.52,"n":450},{"x":1.8,"y":-0.6,"n":350},{"x":1.95,"y":-0.66,"n":300},{"x":1.25,"y":-0.32,"n":650},{"x":1.45,"y":-0.38,"n":500},{"x":1.6,"y":-0.44,"n":430},{"x":1.75,"y":-0.49,"n":400},{"x":1.95,"y":-0.55,"n":400},{"x":2.12,"y":-0.6,"n":420},{"x":0.82,"y":-0.66,"n":1100},{"x":0.84,"y":-0.83,"n":800},{"x":0.93,"y":-1,"n":600},
{"x":0.88,"y":-1.52,"n":300},{"x":0.87,"y":-1.68,"n":350},{"x":0.94,"y":-2,"n":350},{"x":1.03,"y":-2.18,"n":230},{"x":1.11,"y":-2.34,"n":160},{"x":1.2,"y":-2.45,"n":130},{"x":1.36,"y":-2.62,"n":50},{"x":1.48,"y":-2.74,"n":40},{"x":1.6,"y":-2.85,"n":30},{"x":1.72,"y":-2.95,"n":30},{"x":1.86,"y":-3.06,"n":35},{"x":2,"y":-3.17,"n":35},{"x":2.13,"y":-3.27,"n":40},{"x":2.27,"y":-3.36,"n":30},{"x":1.03,"y":-1.75,"n":550},{"x":1.13,"y":-1.9,"n":300},{"x":1.25,"y":-2.04,"n":200},{"x":1.34,"y":-2.16,"n":200},{"x":1.43,"y":-2.32,"n":120},{"x":1.52,"y":-2.5,"n":55},{"x":1.6,"y":-2.68,"n":35},{"x":1.63,"y":-2.9,"n":28},
{"x":-0.63,"y":-2.56,"n":200},{"x":-0.63,"y":-2.72,"n":170},{"x":-0.84,"y":-2.93,"n":46},{"x":-0.89,"y":-3.06,"n":47},{"x":-0.63,"y":-3.06,"n":75},{"x":-0.63,"y":-3.2,"n":60},{"x":-0.61,"y":-3.34,"n":50},{"x":-0.6,"y":-3.47,"n":70},{"x":-0.55,"y":-3.65,"n":70},{"x":-0.5,"y":-3.81,"n":70},{"x":-0.45,"y":-3.93,"n":50},{"x":-1.03,"y":-3.27,"n":45},
{"x":2.84,"y":-0.72,"n":70},{"x":2.95,"y":-0.72,"n":60},{"x":3.04,"y":-0.74,"n":50},{"x":3.13,"y":-0.74,"n":45},{"x":3.22,"y":-0.73,"n":45},{"x":3.31,"y":-0.73,"n":48},{"x":3.4,"y":-0.72,"n":42},{"x":3.5,"y":-0.71,"n":42},{"x":3.59,"y":-0.7,"n":40},{"x":3.67,"y":-0.69,"n":35},{"x":3.77,"y":-0.68,"n":30}
],
"radB":[{"x":3.854,"y":2.225},{"x":3.147,"y":3.147},{"x":2.225,"y":3.854},{"x":1.152,"y":4.298},{"x":0,"y":4.45},{"x":4.298,"y":1.152},{"x":-1.152,"y":4.298},{"x":-2.225,"y":3.854},{"x":-3.147,"y":3.147},{"x":-3.854,"y":2.225},{"x":-4.298,"y":1.152},{"x":-4.298,"y":-1.152},{"x":-3.854,"y":-2.225},{"x":-3.147,"y":-3.147},{"x":-2.225,"y":-3.854},{"x":-1.152,"y":-4.298},{"x":0,"y":-4.45},{"x":1.152,"y":-4.298},{"x":2.225,"y":-3.854},{"x":3.147,"y":-3.147},{"x":3.854,"y":-2.225},{"x":4.298,"y":-1.152}]
},
"hconcat":[
{"width":1159,"height":1070,
"title":{"text":"Meridian chart from Galileo PLS (RJ, MAG Lat)","anchor":"start","frame":"group","dx":69,"offset":-87,"fontSize":41.7,"fontWeight":"normal","font":"Liberation Sans","color":"#262626"},
"encoding":{"x":{"field":"x","type":"quantitative","scale":{"domain":[-0.287,10.804],"nice":false,"zero":false},"axis":null},"y":{"field":"y","type":"quantitative","scale":{"domain":[-4.775,5.464],"nice":false,"zero":false},"axis":null}},
"layer":[
{"data":{"values":[{"x":0,"y":0,"y2":0},{"x":8.827,"y":2.365,"y2":-2.365},{"x":8.9,"y":2.076,"y2":-2.076},{"x":9,"y":1.587,"y2":-1.587},{"x":9.08,"y":1.03,"y2":-1.03},{"x":9.12,"y":0.59,"y2":-0.59},{"x":9.139,"y":0,"y2":0}]},"mark":{"type":"area","color":"#e1e4ee","opacity":1},"encoding":{"y2":{"field":"y2"}}},
{"data":{"name":"arcA"},"mark":{"type":"line","color":"black","strokeWidth":2.6,"strokeDash":[9,5],"interpolate":"cardinal"},"encoding":{"detail":{"field":"r"},"order":{"value":null}}},
{"data":{"values":[{"x":9,"y":1.587},{"x":9.104,"y":0.797},{"x":9.139,"y":0},{"x":9.104,"y":-0.797},{"x":9,"y":-1.587}]},"mark":{"type":"rule","color":"black","strokeWidth":2.4,"strokeDash":[9,5]},"encoding":{"x2":{"datum":0},"y2":{"datum":0}}},
{"data":{"name":"arcA2"},"mark":{"type":"line","color":"#1a1a1a","strokeWidth":6,"interpolate":"cardinal"},"encoding":{"detail":{"field":"r"},"order":{"value":null}}},
{"data":{"name":"triA"},"mark":{"type":"point","shape":"triangle-up","filled":true,"size":150,"opacity":1,"strokeWidth":0},"encoding":{"fill":{"field":"n","type":"quantitative","legend":null,"scale":{"type":"log","domain":[6.04,8.7,10,19.5,26,35,40,47,56,69,100,166,200,309,385,468,562,1000,1349,1862,2692,3270],"range":["#2a3580","#17409a","#1a4aa4","#225ab0","#2f6db8","#4189c8","#2ba3e0","#22c4f4","#4cc6d6","#5fc4ae","#78c57e","#8dc860","#a8ce42","#d3de20","#f5ec2a","#fdc322","#f7a32a","#f36f27","#f15a29","#ee2024","#a01b1f","#7a1214"]}}}},
{"data":{"name":"orbA"},"mark":{"type":"line","strokeWidth":5.5,"strokeDash":[15,7],"interpolate":"cardinal"},"encoding":{"detail":{"field":"s"},"order":{"value":null},"stroke":{"field":"o","type":"nominal","scale":{"domain":["C21","C22","C23","I24","I25","E26","I27","C30","I31","I32","I33"],"range":["#4c72b0","#dd8452","#55a868","#c44e52","#8172b3","#937860","#da8bc3","#8c8c8c","#ccb974","#64b5cd","#4c72b0"]},"legend":{"title":null,"orient":"none","legendX":38,"legendY":99,"symbolType":"stroke","symbolSize":1600,"symbolStrokeWidth":4.5,"symbolDash":[18,6],"labelFontSize":19,"labelFont":"Liberation Sans","labelColor":"#262626","labelOffset":9,"rowPadding":0,"clipHeight":27.4,"symbolOpacity":1}}}},
{"data":{"values":[{"o":"C21","x":8.56,"y":1.66},{"o":"C22","x":9.03,"y":1.09},{"o":"I32","x":5.47,"y":1.14},{"o":"I25","x":6.26,"y":1.23},{"o":"E26","x":5.47,"y":0.6},{"o":"I24","x":6.54,"y":0.09},{"o":"I27","x":6.57,"y":-0.2},{"o":"C30","x":8.11,"y":0.28},{"o":"C23","x":6.96,"y":-0.5},{"o":"I33","x":5.2,"y":-0.71},{"o":"I31","x":8.09,"y":-1.65}]},"mark":{"type":"text","font":"DejaVu Sans Mono","fontSize":15,"align":"center","baseline":"middle"},"encoding":{"text":{"field":"o"},"color":{"field":"o","type":"nominal","legend":null,"scale":{"domain":["C21","C22","C23","I24","I25","E26","I27","C30","I31","I32","I33"],"range":["#4c72b0","#dd8452","#55a868","#c44e52","#8172b3","#937860","#da8bc3","#8c8c8c","#ccb974","#64b5cd","#4c72b0"]}}}},
{"data":{"values":[{"t":"15°","x":9.1,"y":2.47},{"t":"10°","x":9.24,"y":1.66},{"t":"5°","x":9.39,"y":0.86},{"t":"0°","x":9.44,"y":0.03},{"t":"-5°","x":9.42,"y":-0.78},{"t":"-10°","x":9.29,"y":-1.63},{"t":"-15°","x":9.1,"y":-2.44}]},"mark":{"type":"text","fontSize":30,"color":"#262626","align":"center","baseline":"middle"},"encoding":{"text":{"field":"t"}}},
{"data":{"values":[{"t":"1","x":0.86,"y":-0.43},{"t":"2","x":1.82,"y":-0.68},{"t":"3","x":2.79,"y":-0.97},{"t":"4","x":3.76,"y":-1.22},{"t":"5","x":4.72,"y":-1.45},{"t":"6","x":5.69,"y":-1.71},{"t":"7","x":6.66,"y":-1.97},{"t":"8","x":7.63,"y":-2.22},{"t":"9","x":8.59,"y":-2.48}]},"mark":{"type":"text","fontSize":25,"color":"#262626","align":"center","baseline":"middle"},"encoding":{"text":{"field":"t"}}}
]},
{"width":44.6,"height":1070,
"encoding":{"y":{"field":"v","type":"quantitative","scale":{"type":"log","domain":[5.37,5888],"nice":false},"axis":{"values":[10,100,1000],"labelExpr":"datum.value==10?'10¹':datum.value==100?'10²':'10³'","ticks":false,"domain":false,"grid":false,"orient":"right","labelFontSize":18,"labelColor":"#262626","labelFont":"Liberation Sans","labelPadding":19.4,"title":"Ion density [cm^-3]","titleFontSize":30,"titleFontWeight":"normal","titleColor":"#262626","titleAngle":270,"titleX":67,"titleY":571,"titleFont":"Liberation Sans","titleBaseline":"middle"}}},
"layer":[
{"data":{"values":[{"lo":6.04,"hi":3270}]},"mark":{"type":"rect","color":{"gradient":"linear","x1":0,"y1":1,"x2":0,"y2":0,"stops":[{"offset":0,"color":"#2a3580"},{"offset":0.058,"color":"#17409a"},{"offset":0.08,"color":"#1a4aa4"},{"offset":0.186,"color":"#225ab0"},{"offset":0.23,"color":"#2f6db8"},{"offset":0.278,"color":"#4189c8"},{"offset":0.3,"color":"#2ba3e0"},{"offset":0.325,"color":"#22c4f4"},{"offset":0.354,"color":"#4cc6d6"},{"offset":0.387,"color":"#5fc4ae"},{"offset":0.446,"color":"#78c57e"},{"offset":0.526,"color":"#8dc860"},{"offset":0.556,"color":"#a8ce42"},{"offset":0.625,"color":"#d3de20"},{"offset":0.66,"color":"#f5ec2a"},{"offset":0.691,"color":"#fdc322"},{"offset":0.72,"color":"#f7a32a"},{"offset":0.812,"color":"#f36f27"},{"offset":0.859,"color":"#f15a29"},{"offset":0.911,"color":"#ee2024"},{"offset":0.969,"color":"#a01b1f"},{"offset":1,"color":"#7a1214"}]}},
"encoding":{"y":{"field":"lo","type":"quantitative","scale":{"type":"log","domain":[5.37,5888],"nice":false},"axis":{"values":[10,100,1000],"labelExpr":"datum.value==10?'10¹':datum.value==100?'10²':'10³'","ticks":false,"domain":false,"grid":false,"orient":"right","labelFontSize":18,"labelColor":"#262626","labelFont":"Liberation Sans","labelPadding":19.4,"title":"Ion density [cm^-3]","titleFontSize":30,"titleFontWeight":"normal","titleColor":"#262626","titleAngle":270,"titleX":67,"titleY":571,"titleFont":"Liberation Sans","titleBaseline":"middle"}},"y2":{"field":"hi"}}},
{"data":{"values":[{"v":7},{"v":8},{"v":9},{"v":20},{"v":30},{"v":40},{"v":50},{"v":60},{"v":70},{"v":80},{"v":90},{"v":200},{"v":300},{"v":400},{"v":500},{"v":600},{"v":700},{"v":800},{"v":900},{"v":2000},{"v":3000}]},"mark":{"type":"rule","color":"#262626","strokeWidth":2.5},"encoding":{"x":{"value":48},"x2":{"value":53}}},
{"data":{"values":[{"v":10},{"v":100},{"v":1000}]},"mark":{"type":"rule","color":"#262626","strokeWidth":3},"encoding":{"x":{"value":48},"x2":{"value":57}}}
]},
{"width":1279.9,"height":1070,
"title":{"text":"Azimuthal chart from Galileo PLS (RJ, LonIII_Rel)","anchor":"start","frame":"group","dx":296,"offset":-71,"fontSize":35.5,"fontWeight":"normal","font":"Liberation Sans","color":"#262626"},
"encoding":{"x":{"field":"x","type":"quantitative","scale":{"domain":[-6.23,5.353],"nice":false,"zero":false},"axis":null},"y":{"field":"y","type":"quantitative","scale":{"domain":[-4.31,5.373],"nice":false,"zero":false},"axis":null}},
"layer":[
{"data":{"values":[{"x":0,"y":0,"rho":4.45}]},"mark":{"type":"point","shape":"circle","filled":true,"color":"#e1e4ee","opacity":1,"strokeWidth":0},"encoding":{"size":{"field":"rho","type":"quantitative","legend":null,"scale":{"type":"pow","exponent":2,"domain":[0,10],"range":[0,4884100]}}}},
{"data":{"values":[{"x":0,"y":0,"rho":1.2127},{"x":0,"y":0,"rho":2.2127},{"x":0,"y":0,"rho":3.2127}]},"mark":{"type":"point","shape":"circle","filled":false,"color":"black","opacity":1,"strokeWidth":2.6,"strokeDash":[7,4]},"encoding":{"size":{"field":"rho","type":"quantitative","legend":null,"scale":{"type":"pow","exponent":2,"domain":[0,10],"range":[0,4884100]}}}},
{"data":{"name":"radB"},"mark":{"type":"rule","color":"black","strokeWidth":2.1,"strokeDash":[10,5]},"encoding":{"x2":{"datum":0},"y2":{"datum":0}}},
{"data":{"values":[{"x":4.45,"y":0},{"x":-4.45,"y":0}]},"mark":{"type":"rule","color":"black","strokeWidth":3,"strokeDash":[7,4]},"encoding":{"x2":{"datum":0},"y2":{"datum":0}}},
{"data":{"values":[{"x":0,"y":0,"rho":0.2127},{"x":0,"y":0,"rho":4.2127}]},"mark":{"type":"point","shape":"circle","filled":false,"color":"#1c1c1c","opacity":1,"strokeWidth":5.5},"encoding":{"size":{"field":"rho","type":"quantitative","legend":null,"scale":{"type":"pow","exponent":2,"domain":[0,10],"range":[0,4884100]}}}},
{"data":{"values":[{"x":0,"y":0,"rho":0.09}]},"mark":{"type":"point","shape":"circle","filled":true,"color":"black","opacity":1,"strokeWidth":0},"encoding":{"size":{"field":"rho","type":"quantitative","legend":null,"scale":{"type":"pow","exponent":2,"domain":[0,10],"range":[0,4884100]}}}},
{"data":{"name":"triB"},"mark":{"type":"point","shape":"triangle-up","filled":true,"size":100,"opacity":1,"strokeWidth":0},"encoding":{"fill":{"field":"n","type":"quantitative","legend":null,"scale":{"type":"log","domain":[6.04,8.7,10,19.5,26,35,40,47,56,69,100,166,200,309,385,468,562,1000,1349,1862,2692,3270],"range":["#2a3580","#17409a","#1a4aa4","#225ab0","#2f6db8","#4189c8","#2ba3e0","#22c4f4","#4cc6d6","#5fc4ae","#78c57e","#8dc860","#a8ce42","#d3de20","#f5ec2a","#fdc322","#f7a32a","#f36f27","#f15a29","#ee2024","#a01b1f","#7a1214"]}}}},
{"data":{"name":"orbB"},"mark":{"type":"line","strokeWidth":4.5,"strokeDash":[14,6],"interpolate":"cardinal"},"encoding":{"order":{"value":null},"stroke":{"field":"o","type":"nominal","scale":{"domain":["C21","C22","C23","I24","I25","E26","I27","C30","I31","I32","I33"],"range":["#4c72b0","#dd8452","#55a868","#c44e52","#8172b3","#937860","#da8bc3","#8c8c8c","#ccb974","#64b5cd","#4c72b0"]},"legend":{"title":"Orbit #","orient":"none","legendX":1196,"legendY":115,"symbolType":"stroke","symbolSize":676,"symbolStrokeWidth":4,"symbolDash":[17,6],"labelFontSize":16,"labelFont":"Liberation Sans","labelColor":"#262626","labelOffset":16,"titleFontSize":17,"titleFontWeight":"normal","titleFont":"Liberation Sans","titleColor":"#262626","titleAnchor":"middle","titlePadding":1.4,"rowPadding":-2.2,"symbolOpacity":1}}}},
{"data":{"values":[{"o":"I33","x":2.34,"y":1.03},{"o":"C21","x":3.45,"y":0.69},{"o":"I31","x":4.36,"y":-0.15},{"o":"I27","x":4.33,"y":-0.41},{"o":"I32","x":4.34,"y":-0.55},{"o":"I25","x":4.34,"y":-0.69},{"o":"I24","x":4.27,"y":-0.88},{"o":"E26","x":1.15,"y":-0.83},{"o":"C23","x":0.73,"y":-1.73},{"o":"C22","x":-0.41,"y":-2.62},{"o":"C30","x":2.44,"y":2.69}]},"mark":{"type":"text","font":"DejaVu Sans Mono","fontSize":14,"align":"center","baseline":"middle"},"encoding":{"text":{"field":"o"},"color":{"field":"o","type":"nominal","legend":null,"scale":{"domain":["C21","C22","C23","I24","I25","E26","I27","C30","I31","I32","I33"],"range":["#4c72b0","#dd8452","#55a868","#c44e52","#8172b3","#937860","#da8bc3","#8c8c8c","#ccb974","#64b5cd","#4c72b0"]}}}},
{"data":{"values":[{"x":1.1,"y":0}]},"mark":{"type":"point","shape":"circle","filled":true,"size":200,"color":"#eee71f","opacity":1}},
{"data":{"values":[{"t":"IO","x":1.11,"y":0.18}]},"mark":{"type":"text","font":"DejaVu Sans Mono","fontSize":28,"fill":"#f5ec2a","stroke":"#222222","strokeWidth":1,"align":"center","baseline":"middle"},"encoding":{"text":{"field":"t"}}},
{"data":{"values":[{"t":"0.0°","x":4.57,"y":0.02},{"t":"15.0°","x":4.44,"y":1.21},{"t":"30.0°","x":3.98,"y":2.32},{"t":"45.0°","x":3.24,"y":3.27},{"t":"60.0°","x":2.29,"y":4},{"t":"75.0°","x":1.18,"y":4.46},{"t":"90.0°","x":-0.01,"y":4.62},{"t":"105.0°","x":-1.2,"y":4.46},{"t":"120.0°","x":-2.31,"y":4},{"t":"135.0°","x":-3.28,"y":3.27},{"t":"150.0°","x":-3.99,"y":2.32},{"t":"165.0°","x":-4.46,"y":1.21},{"t":"180.0°","x":-4.61,"y":0.02},{"t":"195.0°","x":-4.46,"y":-1.17},{"t":"210.0°","x":-3.99,"y":-2.28},{"t":"225.0°","x":-3.28,"y":-3.24},{"t":"240.0°","x":-2.31,"y":-3.98},{"t":"300.0°","x":2.29,"y":-3.98},{"t":"315.0°","x":3.24,"y":-3.24},{"t":"330.0°","x":3.98,"y":-2.28},{"t":"345.0°","x":4.44,"y":-1.17}]},"mark":{"type":"text","fontSize":26,"color":"#262626","align":"center","baseline":"middle"},"encoding":{"text":{"field":"t"}}},
{"data":{"values":[{"t":"5","x":0.05,"y":0.33},{"t":"6","x":0.05,"y":1.32},{"t":"7","x":0.05,"y":2.33},{"t":"8","x":0.05,"y":3.33},{"t":"9","x":0.05,"y":4.345}]},"mark":{"type":"text","fontSize":25,"color":"#262626","align":"center","baseline":"middle"},"encoding":{"text":{"field":"t"}}}
]},
{"width":51.2,"height":1070,
"layer":[
{"data":{"values":[{"lo":6.68,"hi":3270}]},"mark":{"type":"rect","color":{"gradient":"linear","x1":0,"y1":1,"x2":0,"y2":0,"stops":[{"offset":0,"color":"#263a8c"},{"offset":0.043,"color":"#17409a"},{"offset":0.065,"color":"#1a4aa4"},{"offset":0.173,"color":"#225ab0"},{"offset":0.218,"color":"#2f6db8"},{"offset":0.266,"color":"#4189c8"},{"offset":0.288,"color":"#2ba3e0"},{"offset":0.314,"color":"#22c4f4"},{"offset":0.344,"color":"#4cc6d6"},{"offset":0.377,"color":"#5fc4ae"},{"offset":0.437,"color":"#78c57e"},{"offset":0.519,"color":"#8dc860"},{"offset":0.548,"color":"#a8ce42"},{"offset":0.619,"color":"#d3de20"},{"offset":0.654,"color":"#f5ec2a"},{"offset":0.686,"color":"#fdc322"},{"offset":0.716,"color":"#f7a32a"},{"offset":0.809,"color":"#f36f27"},{"offset":0.857,"color":"#f15a29"},{"offset":0.909,"color":"#ee2024"},{"offset":0.968,"color":"#a01b1f"},{"offset":1,"color":"#7a1214"}]}},
"encoding":{"y":{"field":"lo","type":"quantitative","scale":{"type":"log","domain":[6.68,6295],"nice":false},"axis":{"values":[10,100,1000],"labelExpr":"datum.value==10?'10¹':datum.value==100?'10²':'10³'","ticks":false,"domain":false,"grid":false,"orient":"right","labelFontSize":25,"labelColor":"#262626","labelFont":"Liberation Sans","labelPadding":6,"title":null}},"y2":{"field":"hi"}}}
]}
]}
